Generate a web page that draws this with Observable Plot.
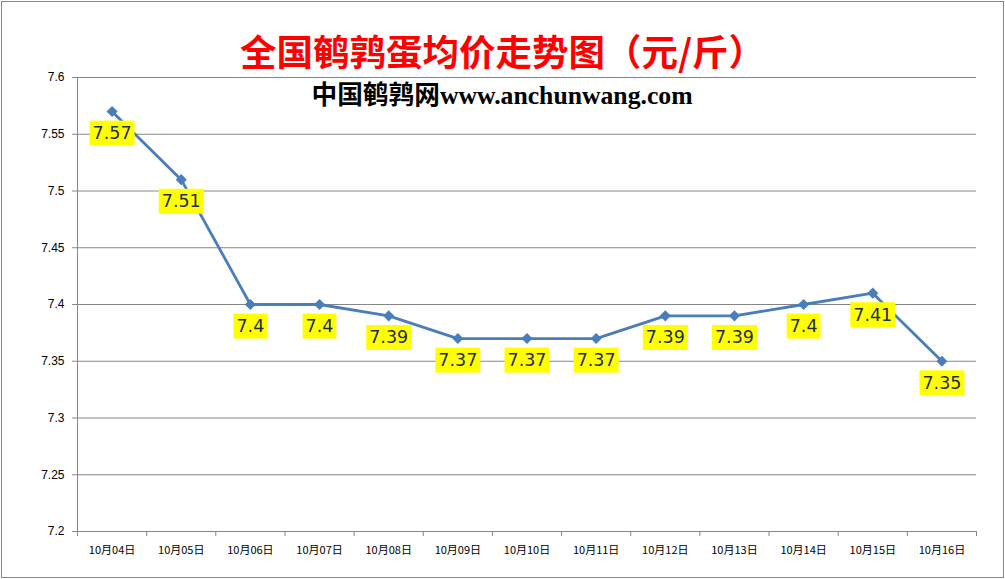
<!DOCTYPE html>
<html>
<head>
<meta charset="utf-8">
<script src="https://cdn.jsdelivr.net/npm/d3@7"></script>
<script src="https://cdn.jsdelivr.net/npm/@observablehq/plot@0.6"></script>
<style>
  body { margin: 0; background: #fff; }
  #wrap { position: relative; width: 1005px; height: 579px; overflow: hidden; background: #fff; }
  #frame { position: absolute; left: 1px; top: 1px; right: 1px; bottom: 1px; border: 1px solid #888; pointer-events: none; }
  #title { box-sizing: border-box; height: 60px; padding-top: 24px; padding-right: 0px; line-height: 38px;
           text-align: center; color: #ff0000; font: bold 36.5px "Noto Sans CJK SC", sans-serif; }
  svg { display: block; }
</style>
</head>
<body>
<div id="wrap">
  <div id="title">全国鹌鹑蛋均价走势图（元/斤）</div>
  <div id="frame"></div>
</div>
<script>
const dates = ["10月04日","10月05日","10月06日","10月07日","10月08日","10月09日","10月10日","10月11日","10月12日","10月13日","10月14日","10月15日","10月16日"];
const prices = [7.57, 7.51, 7.4, 7.4, 7.39, 7.37, 7.37, 7.37, 7.39, 7.39, 7.4, 7.41, 7.35];
const yTicks = [7.2, 7.25, 7.3, 7.35, 7.4, 7.45, 7.5, 7.55, 7.6];
const subtitle = "中国鹌鹑网www.anchunwang.com";

const data = dates.map((d, i) => ({i, date: d, price: prices[i]}));
const gray = "#868686";

const chart = Plot.plot({
  width: 1005,
  height: 519,
  marginTop: 17,
  marginBottom: 48,
  marginLeft: 77,
  marginRight: 29,
  x: {type: "linear", domain: [-0.5, dates.length - 0.5]},
  y: {domain: [7.2, 7.6]},
  style: {background: "transparent"},
  marks: [
    Plot.gridY(yTicks, {stroke: gray, strokeOpacity: 1}),
    Plot.ruleX([-0.5], {stroke: gray}),
    Plot.ruleY([7.2], {stroke: gray}),
    Plot.axisY(yTicks, {label: null, tickSize: 5, tickPadding: 8, stroke: gray, fill: "#000",
      tickFormat: d => String(+d.toFixed(2)), fontSize: 12, fontFamily: "'Liberation Sans', sans-serif"}),
    Plot.axisX(d3.range(-0.5, dates.length, 1), {label: null, tickSize: 5, stroke: gray, tickFormat: () => ""}),
    Plot.axisX(d3.range(dates.length), {label: null, tickSize: 0, tickPadding: 15, fill: "#000",
      tickFormat: i => dates[i], fontSize: 11, fontFamily: "'Noto Sans CJK SC', sans-serif"}),
    Plot.line(data, {x: "i", y: "price", stroke: "#4a7ebb", strokeWidth: 2.8}),
    Plot.dot(data, {x: "i", y: "price", symbol: "diamond2", r: 5, fill: "#4a7ebb", stroke: "none"}),
    Plot.text(data, {x: "i", y: "price", text: d => String(d.price), dy: 22, fontSize: 17.5,
      fontFamily: "'DejaVu Sans', sans-serif", fill: "#1f2d50", className: "vlabel"}),
    Plot.text([subtitle], {frameAnchor: "top", dy: 8, dx: -25, text: d => d, fontSize: 25.7, fontWeight: "bold",
      fontFamily: "'Liberation Serif', 'Noto Sans CJK SC', serif", fill: "#000"})
  ]
});

document.getElementById("wrap").insertBefore(chart, document.getElementById("frame"));

// yellow background boxes behind value labels
const ns = "http://www.w3.org/2000/svg";
chart.querySelectorAll('g[aria-label="text"]').forEach(g => {
  const texts = g.querySelectorAll("text");
  if (texts.length < 2) return;
  texts.forEach(t => {
    const b = t.getBBox();
    const r = document.createElementNS(ns, "rect");
    r.setAttribute("x", b.x - 3);
    r.setAttribute("y", b.y - 2.5);
    r.setAttribute("width", b.width + 6);
    r.setAttribute("height", b.height + 5);
    r.setAttribute("fill", "#ffff00");
    r.setAttribute("stroke", "none");
    const tr = t.getAttribute("transform");
    if (tr) r.setAttribute("transform", tr);
    t.parentNode.insertBefore(r, t);
  });
});
</script>
</body>
</html>
